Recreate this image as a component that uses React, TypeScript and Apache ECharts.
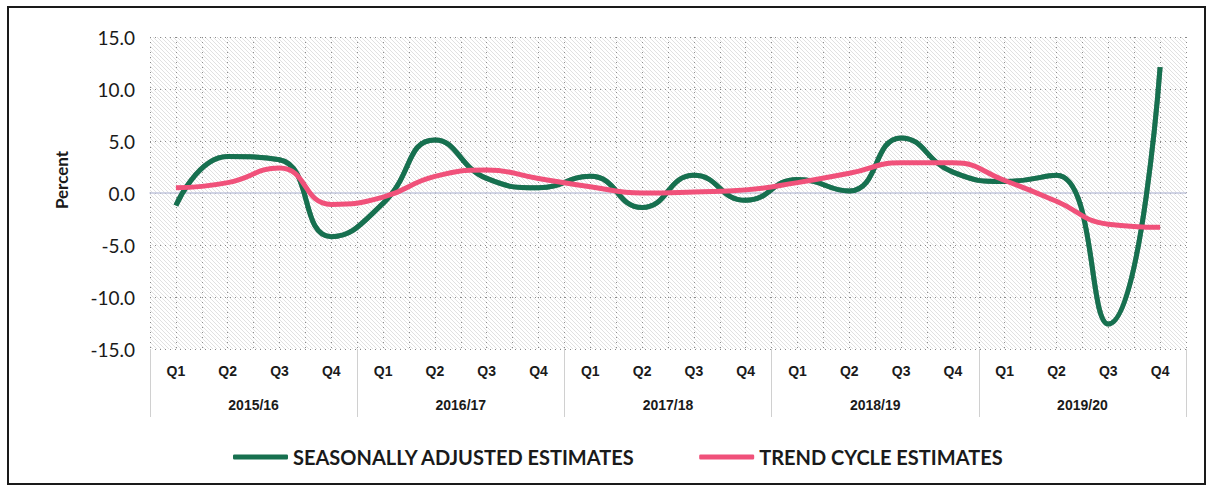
import React, { useEffect, useRef } from "react";
import * as echarts from "echarts";

const quarters = [
  "Q1", "Q2", "Q3", "Q4",
  "Q1", "Q2", "Q3", "Q4",
  "Q1", "Q2", "Q3", "Q4",
  "Q1", "Q2", "Q3", "Q4",
  "Q1", "Q2", "Q3", "Q4",
];
const fiscalYears = ["2015/16", "2016/17", "2017/18", "2018/19", "2019/20"];
const seasonallyAdjusted = [
  -1.2, 3.5, 3.2, -4.2,
  -1.0, 5.1, 1.4, 0.5,
  1.6, -1.4, 1.7, -0.7,
  1.3, 0.2, 5.3, 2.0,
  1.1, 1.7, -12.6, 12.1,
];
const trendCycle = [
  0.5, 1.0, 2.4, -1.1,
  -0.4, 1.6, 2.2, 1.4,
  0.6, 0.0, 0.1, 0.3,
  1.0, 1.9, 2.9, 2.9,
  1.2, -0.8, -3.0, -3.3,
];
const seriesNames = ["SEASONALLY ADJUSTED ESTIMATES", "TREND CYCLE ESTIMATES"];
const yAxisTitle = "Percent";
const yMin = -15;
const yMax = 15;
const yStep = 5;

const GRID = { left: 150, top: 37, width: 1036, height: 312 };

export default function App() {
  const ref = useRef<HTMLDivElement>(null);
  useEffect(() => {
    document.body.style.margin = "0";
    if (!ref.current) return;
    const chart = echarts.init(ref.current, null, { renderer: "svg" });

    const c = document.createElement("canvas");
    c.width = 4;
    c.height = 4;
    const ctx = c.getContext("2d")!;
    ctx.fillStyle = "#ffffff";
    ctx.fillRect(0, 0, 4, 4);
    ctx.fillStyle = "#e1e1e1";
    for (let i = 0; i < 4; i++) ctx.fillRect(i, i, 1, 1);

    const dotted = { color: "#8a8a8a", width: 1, type: [1, 4] as any };

    chart.setOption({
      animation: false,
      backgroundColor: "#ffffff",
      grid: { ...GRID, containLabel: false },
      graphic: [
        {
          type: "rect",
          z: -100,
          silent: true,
          shape: { x: GRID.left, y: GRID.top, width: GRID.width, height: GRID.height },
          style: { fill: { image: c, repeat: "repeat", imageWidth: 4, imageHeight: 4 } as any, stroke: "none" },
        },
        {
          type: "rect",
          z: 100,
          silent: true,
          shape: { x: 8, y: 7, width: 1197, height: 477 },
          style: { fill: "none", stroke: "#1a1a1a", lineWidth: 2 },
        },
        {
          type: "text",
          x: 61,
          y: 180,
          rotation: Math.PI / 2,
          silent: true,
          style: {
            text: yAxisTitle,
            align: "center",
            verticalAlign: "middle",
            fontFamily: "Lato",
            fontWeight: "bold",
            fontSize: 17,
            fill: "#1a1a1a",
          },
        },
      ],
      legend: {
        left: 228,
        top: 442,
        itemWidth: 55,
        itemHeight: 5,
        itemGap: 64,
        icon: "roundRect",
        textStyle: { fontFamily: "Lato", fontWeight: "bold", fontSize: 20, color: "#1a1a1a" },
        data: seriesNames,
      },
      xAxis: [
        {
          type: "category",
          data: quarters,
          position: "bottom",
          axisLine: { show: false, onZero: false },
          axisTick: { show: false },
          splitLine: { show: false },
          axisLabel: {
            interval: 0,
            margin: 15,
            fontFamily: "Liberation Sans",
            fontWeight: "bold",
            fontSize: 14,
            color: "#1a1a1a",
          },
        },
        {
          type: "category",
          data: fiscalYears,
          position: "bottom",
          axisLine: { show: false, onZero: false },
          axisTick: { show: true, length: 68, lineStyle: { color: "#d0d0d0", width: 1 } },
          splitLine: { show: false },
          axisLabel: {
            interval: 0,
            margin: 49,
            fontFamily: "Liberation Sans",
            fontWeight: "bold",
            fontSize: 14,
            color: "#1a1a1a",
          },
        },
        {
          type: "value",
          min: 0,
          max: 40,
          interval: 1,
          position: "bottom",
          axisLine: { show: true, onZero: true, lineStyle: { color: "#c4c8de", width: 1.5 } },
          axisTick: { show: false },
          axisLabel: { show: false },
          splitLine: { show: true, lineStyle: dotted },
        },
      ],
      yAxis: {
        type: "value",
        min: yMin,
        max: yMax,
        interval: yStep,
        axisLine: { show: false },
        axisTick: { show: false },
        axisLabel: {
          margin: 15,
          fontFamily: "Lato",
          fontSize: 19,
          color: "#1a1a1a",
          formatter: (v: number) => v.toFixed(1),
        },
        splitLine: { show: true, lineStyle: dotted },
      },
      series: [
        {
          name: seriesNames[0],
          type: "line",
          xAxisIndex: 0,
          data: seasonallyAdjusted,
          smooth: 0.5,
          symbol: "none",
          showSymbol: false,
          z: 3,
          itemStyle: { color: "#17704f" },
          lineStyle: { color: "#17704f", width: 5, shadowColor: "rgba(0,0,0,0.5)", shadowBlur: 1 },
        },
        {
          name: seriesNames[1],
          type: "line",
          xAxisIndex: 0,
          data: trendCycle,
          smooth: 0.5,
          symbol: "none",
          showSymbol: false,
          z: 4,
          itemStyle: { color: "#f0517a" },
          lineStyle: { color: "#f0517a", width: 5 },
        },
      ],
    });
    return () => chart.dispose();
  }, []);
  return <div ref={ref} style={{ width: 1210, height: 486 }} />;
}
